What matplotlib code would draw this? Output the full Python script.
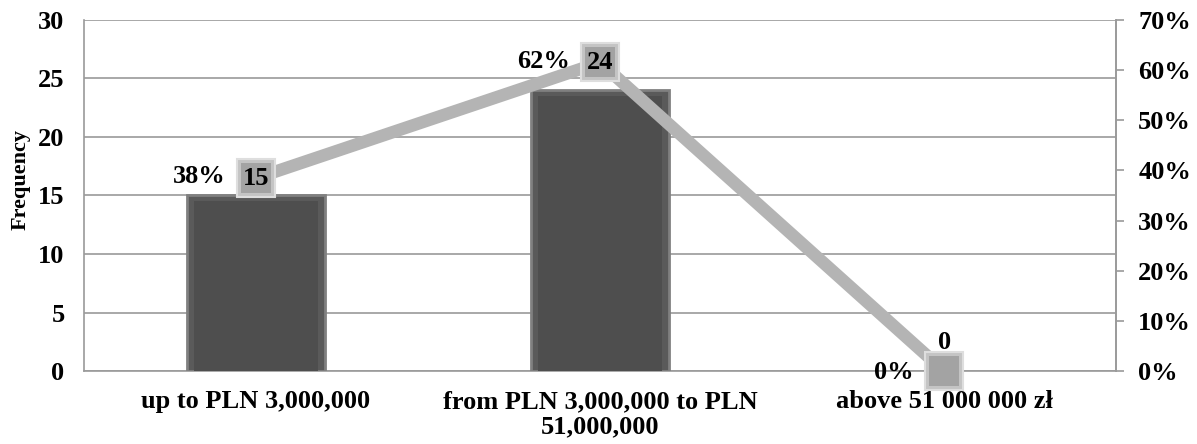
import matplotlib.pyplot as plt
from matplotlib.ticker import FuncFormatter, MultipleLocator

plt.rcParams["font.family"] = ["Liberation Serif", "DejaVu Serif"]
plt.rcParams["font.weight"] = "bold"

categories = ["up to PLN 3,000,000", "from PLN 3,000,000 to PLN\n51,000,000", "above 51 000 000 zł"]
frequency = [15, 24, 0]
share = [15 / 39, 24 / 39, 0.0]
share_labels = ["38%", "62%", "0%"]

grey = "#9a9a9a"
fs = 19

fig = plt.figure(figsize=(11.97, 4.44), dpi=100)
ax = fig.add_axes([0.0702, 0.1644, 0.8622, 0.7906])
x = list(range(len(categories)))

# frequency bars with a lighter rim for the bevel look
edges = ["#808080" if v > 0 else "none" for v in frequency]
ax.bar(x, frequency, width=0.4, color="#5a5a5a", edgecolor=edges, linewidth=2, zorder=3)
ax.bar(x, [max(v - 0.5, 0) for v in frequency], width=0.36, color="#4e4e4e", linewidth=0, zorder=3)

ax.set_xlim(-0.5, 2.5)
ax.set_ylim(0, 30)
ax.yaxis.set_major_locator(MultipleLocator(5))
ax.grid(axis="y", color=grey, linewidth=1.2, zorder=0)
ax.set_axisbelow(True)
ax.set_xticks(x)
ax.set_xticklabels(categories, fontsize=fs, fontweight="bold", linespacing=1.1)
ax.tick_params(axis="x", length=0, pad=14)
ax.tick_params(axis="y", length=0, labelsize=fs, pad=14)
for lab in ax.get_yticklabels():
    lab.set_fontweight("bold")
ax.set_ylabel("Frequency", fontsize=16, fontweight="bold")
ax.yaxis.set_label_coords(-0.052, 0.545)
ax.spines["top"].set_visible(False)
for side in ["left", "bottom", "right"]:
    ax.spines[side].set_color(grey)
    ax.spines[side].set_linewidth(1.2)

# cumulative share line on the right axis
ax2 = ax.twinx()
ax2.set_ylim(0, 0.7)
ax2.yaxis.set_major_locator(MultipleLocator(0.1))
ax2.yaxis.set_major_formatter(FuncFormatter(lambda v, p: f"{v * 100:.0f}%"))
ax2.tick_params(axis="y", length=6, color=grey, width=1.2, labelsize=fs, pad=10)
for lab in ax2.get_yticklabels():
    lab.set_fontweight("bold")
for side in ["top", "left", "bottom"]:
    ax2.spines[side].set_visible(False)
ax2.spines["right"].set_color(grey)
ax2.spines["right"].set_linewidth(1.2)

ax2.plot(x, share, color="#b4b4b4", linewidth=9, solid_capstyle="butt", zorder=4, clip_on=False)
ax2.plot(x, share, linestyle="none", marker="s", markersize=28, markerfacecolor="#c4c4c4",
         markeredgecolor="#dedede", markeredgewidth=1.5, zorder=5, clip_on=False)
ax2.plot(x, share, linestyle="none", marker="s", markersize=21, markerfacecolor="#a3a3a3",
         markeredgewidth=0, zorder=5, clip_on=False)

for i, (v, s, lab) in enumerate(zip(frequency, share, share_labels)):
    if v > 0:
        ax2.annotate(str(v), (i, s), ha="center", va="center", fontsize=fs, fontweight="bold", zorder=6)
        ax2.annotate(lab, (i, s), xytext=(-22, 1), textcoords="offset points",
                     ha="right", va="center", fontsize=fs, fontweight="bold", zorder=6)
    else:
        ax2.annotate(str(v), (i, s), xytext=(0, 12), textcoords="offset points",
                     ha="center", va="bottom", fontsize=fs, fontweight="bold", zorder=6)
        ax2.annotate(lab, (i, s), xytext=(-22, -1), textcoords="offset points",
                     ha="right", va="center", fontsize=fs, fontweight="bold", zorder=6)

fig.savefig("out.png", dpi=100)
